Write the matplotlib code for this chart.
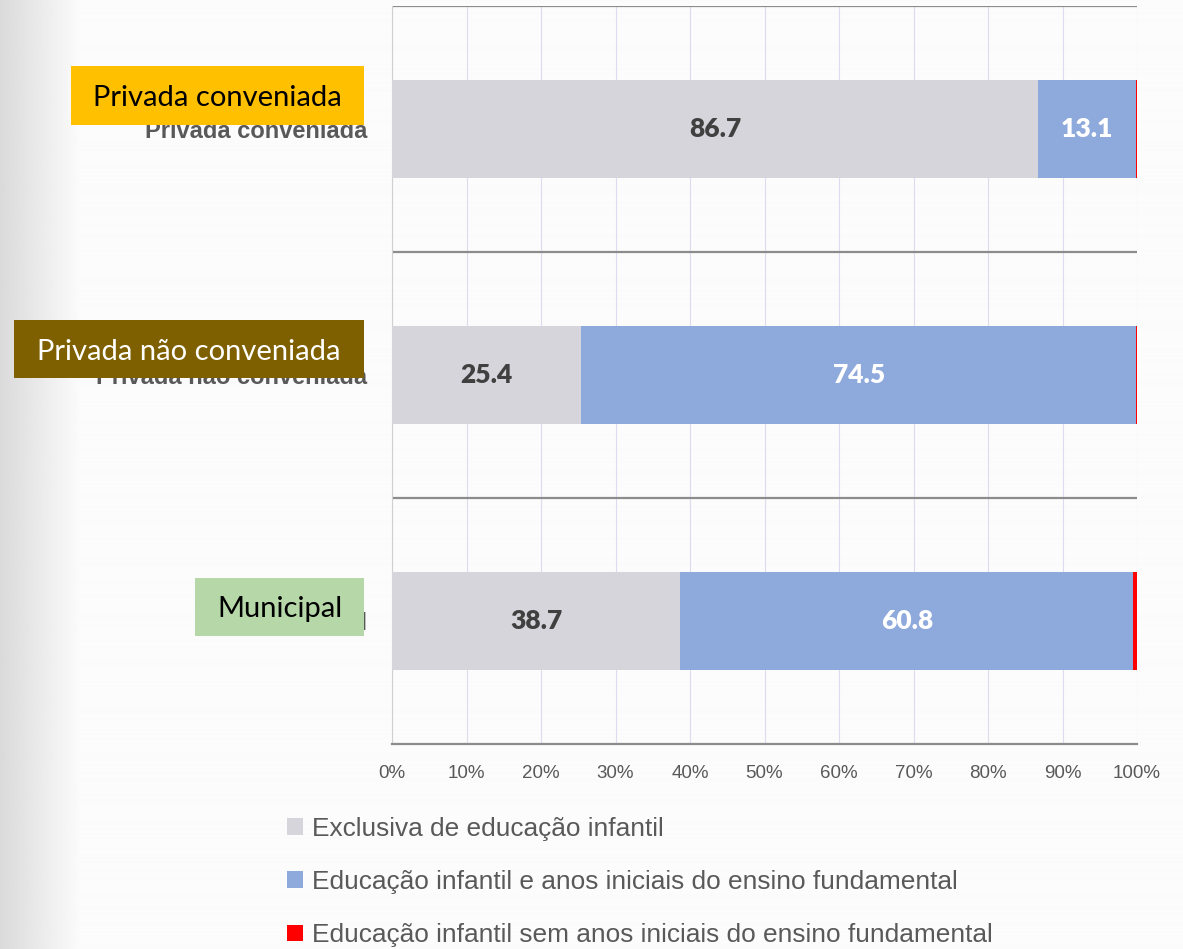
import numpy as np
import matplotlib.pyplot as plt
from matplotlib import font_manager
from matplotlib.patches import Rectangle

# dados (percentual de escolas)
categorias = ['Privada conveniada', 'Privada não conveniada', 'Municipal']
exclusiva = [86.7, 25.4, 38.7]
com_anos_iniciais = [13.1, 74.5, 60.8]
sem_anos_iniciais = [0.2, 0.1, 0.5]
series_nomes = ['Exclusiva de educação infantil',
                'Educação infantil e anos iniciais do ensino fundamental',
                'Educação infantil sem anos iniciais do ensino fundamental']
cores = ['#D5D5DB', '#8EA9DB', '#FF0000']
cores_rotulo = ['#404040', 'white']
xticks = np.arange(0, 101, 10)

# caixas coloridas por cima dos rótulos (pixels: x0, y0, x1, y1)
caixas = [(71, 66, 364, 125, '#FFC000', 'black'),
          (14, 320, 364, 378, '#7F6000', 'white'),
          (195, 578, 364, 636, '#B6D7A8', 'black')]

nomes = {f.name for f in font_manager.fontManager.ttflist}
if 'Liberation Sans Narrow' in nomes:
    estreita, esc = 'Liberation Sans Narrow', 1.2
else:
    estreita, esc = 'Liberation Sans', 1.0

W, H = 1183, 949
fig = plt.figure(figsize=(W / 100, H / 100), dpi=100)
fig.patch.set_facecolor('#fbfbfb')

# faixa cinza em degradê à esquerda
bg = fig.add_axes([0, 0, 1, 1], zorder=-5)
grad = np.ones((2, W))
ramp = np.clip(np.arange(W) / 80.0, 0, 1)
grad[:] = 0.855 + 0.13 * ramp
bg.imshow(grad, cmap='gray', vmin=0, vmax=1, aspect='auto', extent=[0, 1, 0, 1])
bg.axis('off')

ax = fig.add_axes([392 / W, 1 - 744 / H, (1137 - 392) / W, (744 - 6) / H])
ax.set_facecolor('none')
y = np.arange(len(categorias))
esq = np.zeros(len(categorias))
for i, vals in enumerate([exclusiva, com_anos_iniciais, sem_anos_iniciais]):
    barras = ax.barh(y, vals, left=esq, height=0.4, color=cores[i], zorder=3,
                     label=series_nomes[i])
    if i < 2:
        ax.bar_label(barras, labels=[f'{v:.1f}' for v in vals], label_type='center',
                     fontsize=19, fontweight='heavy', family='Lato',
                     color=cores_rotulo[i])
    esq += np.array(vals)

ax.set_xlim(0, 100)
ax.set_ylim(2.5, -0.5)
ax.set_xticks(xticks)
ax.set_xticklabels([f'{t}%' for t in xticks], family=estreita, fontsize=13.5 * esc,
                   color='#595959')
ax.set_yticks(y)
ax.set_yticklabels(categorias, family=estreita, fontsize=17 * esc,
                   fontweight='bold', color='#595959')
ax.tick_params(axis='both', length=0)
ax.tick_params(axis='y', pad=18)
ax.tick_params(axis='x', pad=15)
ax.grid(axis='x', color='#DCDCF0', linewidth=0.8, zorder=0)
for yy in [-0.5, 0.5, 1.5]:
    ax.axhline(yy, color='#8C8C8C', linewidth=1.6, zorder=2)
for s in ['top', 'right']:
    ax.spines[s].set_visible(False)
ax.spines['left'].set_color('#D0D0D0')
ax.spines['bottom'].set_color('#8C8C8C')
ax.spines['bottom'].set_linewidth(1.6)

# legenda
h, l = ax.get_legend_handles_labels()
fig.legend(h, l, loc='center left', bbox_to_anchor=(287 / W, 1 - 882 / H),
           frameon=False, prop={'family': estreita, 'size': 18.9 * esc},
           labelcolor='#595959', handlelength=0.6, handleheight=0.6,
           handletextpad=0.35, labelspacing=1.12, borderpad=0, borderaxespad=0)

for (x0, y0, x1, y1, cor, cor_txt), nome in zip(caixas, categorias):
    fig.patches.append(Rectangle((x0 / W, 1 - y1 / H), (x1 - x0) / W, (y1 - y0) / H,
                                 transform=fig.transFigure, facecolor=cor,
                                 edgecolor='none', zorder=10))
    fig.text((x0 + x1) / 2 / W, 1 - (y0 + y1) / 2 / H, nome, ha='center',
             va='center_baseline', family='Lato', fontsize=21, color=cor_txt,
             zorder=11)

fig.savefig('out.png', dpi=100, facecolor=fig.get_facecolor())
